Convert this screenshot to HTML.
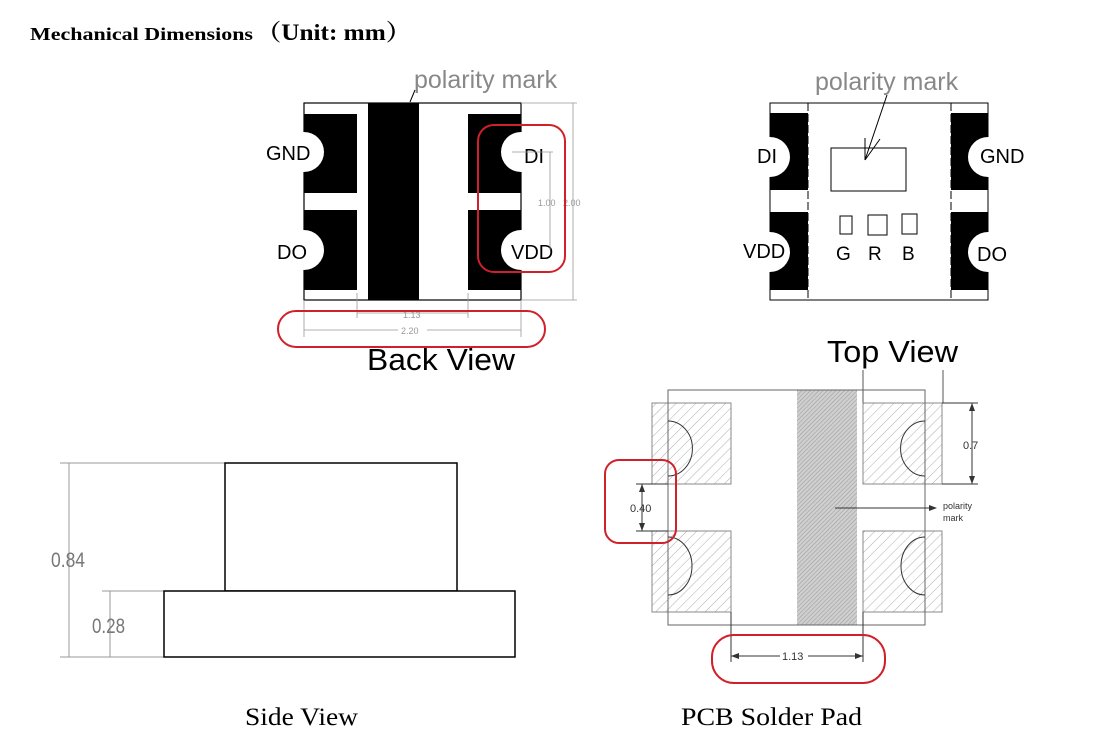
<!DOCTYPE html>
<html><head><meta charset="utf-8"><style>
html,body{margin:0;padding:0;background:#fff;}
svg{display:block;}
</style></head><body>
<svg width="1106" height="749" viewBox="0 0 1106 749" xmlns="http://www.w3.org/2000/svg">
<defs>
<pattern id="h" patternUnits="userSpaceOnUse" width="7" height="7" patternTransform="rotate(45)">
<line x1="0" y1="0" x2="0" y2="7" stroke="#999" stroke-width="0.8"/>
</pattern>
<pattern id="h2" patternUnits="userSpaceOnUse" width="3" height="3" patternTransform="rotate(45)">
<rect width="3" height="3" fill="#cfcfcf"/>
<line x1="0" y1="0" x2="0" y2="3" stroke="#9a9a9a" stroke-width="1"/>
</pattern>
</defs>
<rect width="1106" height="749" fill="#fff"/>
<!-- Title -->
<text x="30" y="40" font-family="Liberation Serif, serif" font-weight="bold" font-size="18" textLength="223" lengthAdjust="spacingAndGlyphs">Mechanical Dimensions</text>
<text x="256" y="40" font-family="Liberation Serif, 'Noto Serif CJK SC', serif" font-weight="bold" font-size="23" textLength="155" lengthAdjust="spacingAndGlyphs">（Unit: mm）</text>

<!-- BACK VIEW -->
<rect x="304" y="103" width="217" height="197" fill="#fff" stroke="#000" stroke-width="1.2"/>
<rect x="304" y="114" width="53" height="79" fill="#000"/>
<rect x="304" y="210" width="53" height="80" fill="#000"/>
<rect x="468" y="114" width="53" height="79" fill="#000"/>
<rect x="468" y="210" width="53" height="80" fill="#000"/>
<rect x="368" y="103" width="51" height="197" fill="#000"/>
<circle cx="304" cy="152" r="20" fill="#fff"/>
<circle cx="304" cy="250" r="20" fill="#fff"/>
<circle cx="521" cy="152" r="20" fill="#fff"/>
<circle cx="521" cy="250" r="20" fill="#fff"/>
<g font-family="Liberation Sans, sans-serif" font-size="20" fill="#000">
<text x="266" y="160">GND</text>
<text x="277" y="259">DO</text>
<text x="524" y="163">DI</text>
<text x="511" y="259">VDD</text>
</g>
<g stroke="#999" stroke-width="0.8" fill="none">
<line x1="521" y1="103" x2="577" y2="103"/>
<line x1="521" y1="300" x2="577" y2="300"/>
<line x1="573" y1="103" x2="573" y2="300"/>
<line x1="512" y1="152" x2="553" y2="152"/>
<line x1="550" y1="152" x2="550" y2="250"/>
<line x1="304" y1="300" x2="304" y2="337"/>
<line x1="521" y1="300" x2="521" y2="337"/>
<line x1="357" y1="293" x2="357" y2="318"/>
<line x1="468" y1="293" x2="468" y2="318"/>
<line x1="357" y1="313" x2="468" y2="313"/>
<line x1="304" y1="330" x2="398" y2="330"/>
<line x1="427" y1="330" x2="521" y2="330"/>
</g>
<g font-family="Liberation Sans, sans-serif" font-size="9" fill="#999">
<text x="538" y="206">1.00</text><text x="563" y="206">2.00</text>
<text x="403" y="318">1.13</text><text x="401" y="334">2.20</text>
</g>
<rect x="478" y="125" width="87" height="147" rx="16" fill="none" stroke="#d0202a" stroke-width="2"/>
<rect x="278" y="311" width="267" height="36" rx="18" fill="none" stroke="#d0202a" stroke-width="2"/>
<line x1="410" y1="102" x2="415" y2="90" stroke="#000" stroke-width="1"/>
<text x="414" y="88" font-family="Liberation Sans, sans-serif" font-size="25" fill="#888">polarity mark</text>
<text x="367" y="370" font-family="Liberation Sans, sans-serif" font-size="31" fill="#000" textLength="148" lengthAdjust="spacingAndGlyphs">Back View</text>

<!-- TOP VIEW -->
<rect x="770" y="103" width="218" height="197" fill="#fff" stroke="#000" stroke-width="1"/>
<rect x="770" y="113" width="38" height="77" fill="#000"/>
<rect x="770" y="212" width="38" height="78" fill="#000"/>
<rect x="951" y="113" width="37" height="77" fill="#000"/>
<rect x="951" y="212" width="37" height="78" fill="#000"/>
<circle cx="770" cy="157" r="20" fill="#fff"/>
<circle cx="770" cy="252" r="20" fill="#fff"/>
<circle cx="988" cy="157" r="20" fill="#fff"/>
<circle cx="988" cy="252" r="20" fill="#fff"/>
<line x1="808" y1="103" x2="808" y2="300" stroke="#000" stroke-dasharray="8,3"/>
<line x1="951" y1="103" x2="951" y2="300" stroke="#000" stroke-dasharray="8,3"/>
<rect x="831" y="148" width="75" height="43" fill="none" stroke="#000" stroke-width="1"/>
<rect x="840" y="216" width="12" height="18" fill="none" stroke="#000"/>
<rect x="868" y="215" width="19" height="20" fill="none" stroke="#000"/>
<rect x="902" y="214" width="15" height="20" fill="none" stroke="#000"/>
<g font-family="Liberation Sans, sans-serif" font-size="20" fill="#000">
<text x="757" y="163">DI</text>
<text x="980" y="163">GND</text>
<text x="743" y="258">VDD</text>
<text x="977" y="261">DO</text>
<text x="836" y="260" font-size="19">G</text>
<text x="868" y="260" font-size="19">R</text>
<text x="902" y="260" font-size="19">B</text>
</g>
<line x1="887" y1="95" x2="865" y2="160" stroke="#000"/>
<line x1="865" y1="160" x2="865" y2="138" stroke="#000"/>
<line x1="865" y1="160" x2="880" y2="139" stroke="#000"/>
<text x="815" y="90" font-family="Liberation Sans, sans-serif" font-size="25" fill="#888">polarity mark</text>
<text x="827" y="362" font-family="Liberation Sans, sans-serif" font-size="31" fill="#000" textLength="131" lengthAdjust="spacingAndGlyphs">Top View</text>

<!-- SIDE VIEW -->
<g stroke="#999" stroke-width="1" fill="none">
<line x1="60" y1="463" x2="225" y2="463"/>
<line x1="102" y1="591" x2="164" y2="591"/>
<line x1="60" y1="657" x2="164" y2="657"/>
<line x1="69" y1="463" x2="69" y2="657"/>
<line x1="110" y1="591" x2="110" y2="657"/>
</g>
<rect x="225" y="463" width="232" height="128" fill="#fff" stroke="#000" stroke-width="1.5"/>
<rect x="164" y="591" width="351" height="66" fill="#fff" stroke="#000" stroke-width="1.5"/>
<g font-family="Liberation Sans, sans-serif" font-size="21" fill="#777">
<text x="51" y="567" textLength="34" lengthAdjust="spacingAndGlyphs">0.84</text>
<text x="92" y="633" textLength="33" lengthAdjust="spacingAndGlyphs">0.28</text>
</g>
<text x="245" y="725" font-family="Liberation Serif, serif" font-size="25" textLength="113" lengthAdjust="spacingAndGlyphs">Side View</text>

<!-- PCB SOLDER PAD -->
<line x1="863" y1="370" x2="863" y2="403" stroke="#555"/>
<line x1="943" y1="370" x2="943" y2="403" stroke="#555"/>
<rect x="652" y="403" width="79" height="81" fill="url(#h)" stroke="#888"/>
<rect x="652" y="531" width="79" height="81" fill="url(#h)" stroke="#888"/>
<rect x="863" y="403" width="79" height="81" fill="url(#h)" stroke="#888"/>
<rect x="863" y="531" width="79" height="81" fill="url(#h)" stroke="#888"/>
<rect x="797" y="390" width="60" height="235" fill="url(#h2)"/>
<rect x="668" y="390" width="257" height="235" fill="none" stroke="#666" stroke-width="1"/>
<g stroke="#333" fill="none" stroke-width="1">
<path d="M668 421 A24 27 0 0 1 668 476"/>
<path d="M668 537 A24 29 0 0 1 668 595"/>
<path d="M925 421 A24 27 0 0 0 925 476"/>
<path d="M925 537 A24 29 0 0 0 925 595"/>
<line x1="942" y1="403" x2="978" y2="403"/>
<line x1="942" y1="484" x2="978" y2="484"/>
<line x1="972" y1="403" x2="972" y2="484"/>
<line x1="636" y1="484" x2="668" y2="484"/>
<line x1="636" y1="531" x2="668" y2="531"/>
<line x1="642" y1="484" x2="642" y2="531"/>
<line x1="835" y1="508" x2="933" y2="508"/>
<line x1="731" y1="612" x2="731" y2="662"/>
<line x1="863" y1="612" x2="863" y2="662"/>
<line x1="731" y1="656" x2="780" y2="656"/>
<line x1="808" y1="656" x2="863" y2="656"/>
</g>
<g fill="#333">
<path d="M972 403 l-3 8 h6z"/><path d="M972 484 l-3 -8 h6z"/>
<path d="M642 484 l-3 8 h6z"/><path d="M642 531 l-3 -8 h6z"/>
<path d="M937 508 l-8 -3 v6z"/>
<path d="M731 656 l8 -3 v6z"/><path d="M863 656 l-8 -3 v6z"/>
</g>
<g font-family="Liberation Sans, sans-serif" fill="#333">
<text x="963" y="449" font-size="11">0.7</text>
<text x="630" y="512" font-size="11">0.40</text>
<text x="782" y="660" font-size="11">1.13</text>
<text x="943" y="509" font-size="9">polarity</text>
<text x="943" y="521" font-size="9">mark</text>
</g>
<rect x="605" y="460" width="71" height="83" rx="14" fill="none" stroke="#d0202a" stroke-width="2"/>
<rect x="712" y="635" width="173" height="48" rx="22" fill="none" stroke="#d0202a" stroke-width="2"/>
<text x="681" y="725" font-family="Liberation Serif, serif" font-size="25" textLength="181" lengthAdjust="spacingAndGlyphs">PCB Solder Pad</text>
</svg>
</body></html>
